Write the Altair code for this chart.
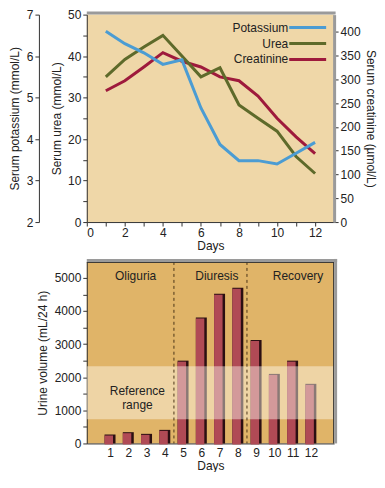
import altair as alt
import pandas as pd

# ---- data ----
days = list(range(1, 13))
potassium = [6.6, 6.3, 6.08, 5.8, 5.91, 4.75, 3.87, 3.48, 3.48, 3.4, 3.66, 3.92]
urea = [35.0, 39.2, 42.2, 45.0, 40.0, 35.0, 37.2, 28.2, 25.0, 21.9, 15.8, 11.7]
creatinine = [276, 297, 326, 356, 338, 326, 305, 297, 265, 218, 179, 144]
urine = [270, 340, 290, 410, 2500, 3800, 4520, 4700, 3120, 2100, 2500, 1800]

ref_range = [730, 2330]
phase_bounds = [4.5, 8.5]
phase_names = ["Oliguria", "Diuresis", "Recovery"]
phase_x = [2.4, 6.85, 11.3]
phase_y = [5070, 5070, 5070]
legend_names = ["Potassium", "Urea", "Creatinine"]
colors = ["#4b9cd3", "#5e6a2a", "#9e1a3c"]

df = pd.DataFrame({"day": days, "potassium": potassium, "urea": urea,
                   "creatinine": creatinine, "urine": urine})
phases = pd.DataFrame({"name": phase_names, "x": phase_x, "urine": phase_y})
bounds_df = pd.DataFrame({"day": phase_bounds})
ref_df = pd.DataFrame({"urine": [ref_range[0]], "hi": [ref_range[1]]})
ref_lbl = pd.DataFrame({"day": [2.5], "urine": [1570], "label": ["Reference\nrange"]})

W = 248
H1 = 208
H2 = 182
FONT = "Liberation Sans"
GRAY = "#9a9a9a"
INK = "#222222"

xscale = alt.Scale(domain=[0, 13], nice=False, zero=False)
base = alt.Chart(df)

x_top = alt.X("day:Q", scale=xscale,
              axis=alt.Axis(values=list(range(0, 13)), format="d",
                            labelExpr="datum.value % 2 === 0 ? datum.label : ''",
                            labelOverlap=False, title="Days", grid=False,
                            tickSize=4, labelPadding=1, titlePadding=3))

creat_line = base.mark_line(color=colors[2], strokeWidth=3).encode(
    x=x_top,
    y=alt.Y("creatinine:Q", scale=alt.Scale(domain=[0, 436], nice=False),
            axis=alt.Axis(orient="right", values=list(range(0, 401, 50)), format="d",
                          labelOverlap=False,
                          title="Serum creatinine (µmol/L)", grid=False,
                          tickSize=4, domainColor=GRAY, domainWidth=3,
                          labelPadding=2, titlePadding=3)))

urea_line = base.mark_line(color=colors[1], strokeWidth=3).encode(
    x=x_top,
    y=alt.Y("urea:Q", scale=alt.Scale(domain=[0, 50], nice=False),
            axis=alt.Axis(orient="left", values=list(range(0, 51, 5)), format="d",
                          labelExpr="datum.value % 10 === 0 ? datum.label : ''",
                          labelOverlap=False, title="Serum urea (mmol/L)",
                          grid=False, tickSize=4, labelPadding=2, titlePadding=4)))

pot_line = base.mark_line(color=colors[0], strokeWidth=3).encode(
    x=x_top,
    y=alt.Y("potassium:Q", scale=alt.Scale(domain=[2, 7], nice=False, zero=False),
            axis=alt.Axis(orient="left", offset=48, format="d",
                          values=[2, 2.5, 3, 3.5, 4, 4.5, 5, 5.5, 6, 6.5, 7],
                          labelExpr="datum.value % 1 === 0 ? datum.label : ''",
                          labelOverlap=False, title="Serum potassium (mmol/L)",
                          grid=False, tickSize=4, labelPadding=2, titlePadding=5)))

# legend (label then line, as in the reference)
legend_layers = []
for i, (name, col) in enumerate(zip(legend_names, colors)):
    yy = 13 + i * 16
    ld = pd.DataFrame({"name": [name]})
    legend_layers.append(alt.Chart(ld).mark_text(
        align="right", baseline="middle", font=FONT, fontSize=12, color=INK
    ).encode(text="name:N", x=alt.value(W - 46), y=alt.value(yy)))
    legend_layers.append(alt.Chart(ld).mark_rule(color=col, strokeWidth=3).encode(
        x=alt.value(W - 45), x2=alt.value(W - 8), y=alt.value(yy)))

top_border = alt.Chart(pd.DataFrame({"k": [0]})).mark_rule(
    color=GRAY, strokeWidth=3).encode(x=alt.value(0), x2=alt.value(W + 1.5),
                                      y=alt.value(-1.5))

top = alt.layer(creat_line, urea_line, pot_line, *legend_layers, top_border).resolve_scale(
    y="independent").properties(width=W, height=H1,
                                view=alt.ViewBackground(fill="#efd7a8", strokeWidth=0))

# ---- bottom panel ----
xb_axis = alt.Axis(values=days, format="d", tickSize=0, title="Days", grid=False,
                   labelOverlap=False, labelPadding=4, titlePadding=2)
yb_scale = alt.Scale(domain=[0, 5480], nice=False)
yb_axis = alt.Axis(values=list(range(0, 5001, 500)), format="d",
                   labelExpr="datum.value % 1000 === 0 ? datum.label : ''",
                   labelOverlap=False, title="Urine volume (mL/24 h)",
                   grid=False, tickSize=4, labelPadding=2, titlePadding=5)
xb = alt.X("day:Q", scale=xscale, axis=xb_axis)
yb = alt.Y("urine:Q", scale=yb_scale, axis=yb_axis)

shadow = base.mark_bar(color="#2b0f12", size=11).encode(x=xb, y=yb)
bars = base.mark_bar(color="#b04a55", size=8.5, xOffset=-1.25, yOffset=1).encode(x=xb, y=yb)

band = alt.Chart(ref_df).mark_rect(color="#fffaf0", opacity=0.45).encode(
    x=alt.value(0), x2=alt.value(W), y=yb, y2="hi:Q")

ref_text = alt.Chart(ref_lbl).mark_text(
    font=FONT, fontSize=12, color=INK, lineBreak="\n", align="center", baseline="middle"
).encode(x=xb, y=yb, text="label:N")

dashes = alt.Chart(bounds_df).mark_rule(
    color="#4a3418", strokeWidth=1, strokeDash=[3, 3]).encode(
    x=xb, y=alt.value(0), y2=alt.value(H2))

phase_text = alt.Chart(phases).mark_text(
    font=FONT, fontSize=12, color=INK, baseline="middle").encode(
    x=alt.X("x:Q", scale=xscale, axis=xb_axis), y=yb, text="name:N")

frame = alt.Chart(pd.DataFrame({"k": [0]}))
b_top_dark = frame.mark_rule(color="#333333", strokeWidth=1).encode(
    x=alt.value(0), x2=alt.value(W), y=alt.value(0.5))
b_right_dark = frame.mark_rule(color="#333333", strokeWidth=1).encode(
    x=alt.value(W - 0.5), y=alt.value(0), y2=alt.value(H2))
b_top_gray = frame.mark_rule(color=GRAY, strokeWidth=3).encode(
    x=alt.value(0), x2=alt.value(W + 3), y=alt.value(-1.5))
b_right_gray = frame.mark_rule(color=GRAY, strokeWidth=3).encode(
    x=alt.value(W + 1.5), y=alt.value(-3), y2=alt.value(H2))

bottom = alt.layer(shadow, bars, band, ref_text, dashes, phase_text,
                   b_top_dark, b_right_dark, b_top_gray, b_right_gray).properties(
    width=W, height=H2, view=alt.ViewBackground(fill="#e0b468", strokeWidth=0))

chart = alt.vconcat(top, bottom, spacing=40, bounds="flush").properties(
    padding=0
).configure_axis(
    labelFont=FONT, titleFont=FONT, labelFontSize=12, titleFontSize=12,
    titleFontWeight="normal", labelColor=INK, titleColor=INK,
    domainColor="#333333", tickColor="#333333"
).configure_view(strokeWidth=0)

chart.save("out.html", embed_options={"renderer": "svg", "actions": False})
